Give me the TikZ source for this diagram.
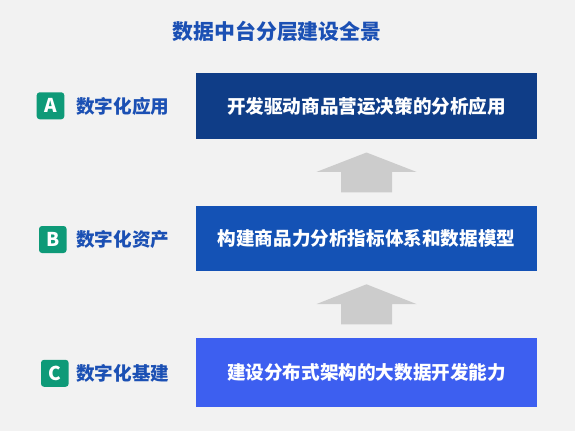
\documentclass[tikz,border=0pt]{standalone}
\usepackage{fontspec}
\setmainfont{Noto Sans CJK SC}
\usetikzlibrary{calc}
\definecolor{bgGray}{HTML}{F2F2F2}
\definecolor{titleBlue}{HTML}{1B50B4}
\definecolor{appBlue}{HTML}{0F3D87}
\definecolor{assetBlue}{HTML}{1452B5}
\definecolor{baseBlue}{HTML}{3D5FF0}
\definecolor{tagGreen}{HTML}{0E9A78}
\definecolor{arrowGray}{HTML}{CCCCCC}
\begin{document}
\begin{tikzpicture}[x=1pt,y=-1pt, line join=round,
	layer/.style={minimum width=341, inner sep=0, text=white, font=\fontsize{18.6}{20}\selectfont\bfseries},
	tag/.style={anchor=west, inner sep=0, text=titleBlue, font=\fontsize{18.6}{20}\selectfont\bfseries},
	badge/.style={fill=tagGreen, rounded corners=3, minimum width=27.6, minimum height=27, inner sep=0, text=white, font=\fontsize{19}{20}\selectfont\bfseries},
	upArrow/.style={fill=arrowGray}]
	\def\W{575} \def\H{431}
	\fill[bgGray] (0,0) rectangle (\W,\H);
	% title
	\node[inner sep=0, text=titleBlue, font=\fontsize{20.9}{22}\selectfont\bfseries] (title) at (277,31) {数据中台分层建设全景};
	% layers
	\node[layer, fill=appBlue, minimum height=66] (app) at (366.5,106) {开发驱动商品营运决策的分析应用};
	\node[layer, fill=assetBlue, minimum height=65] (asset) at (366.5,238.3) {构建商品力分析指标体系和数据模型};
	\node[layer, fill=baseBlue, minimum height=68.7] (base) at (366.5,372.3) {建设分布式架构的大数据开发能力};
	% left labels
	\node[badge] (appBadge) at (50.5,105.8) {A};
	\node[tag] (appTag) at (76,106) {数字化应用};
	\node[badge] (assetBadge) at (52.8,239.5) {B};
	\node[tag] (assetTag) at (76,239.5) {数字化资产};
	\node[badge] (baseBadge) at (54.8,373.3) {C};
	\node[tag] (baseTag) at (76,373.3) {数字化基建};
	% block arrows
	\foreach \lo/\hi in {asset/app, base/asset}
		\fill[upArrow] ($(\lo.north)+(-25.5,-13.3)$) -- ++(0,-20.4) -- ++(-24.5,0)
			-- ($(\hi.south)+(0,13.3)$) -- ($(\lo.north)+(50,-33.7)$) -- ++(-24.5,0)
			-- ($(\lo.north)+(25.5,-13.3)$) -- cycle;
\end{tikzpicture}
\end{document}
